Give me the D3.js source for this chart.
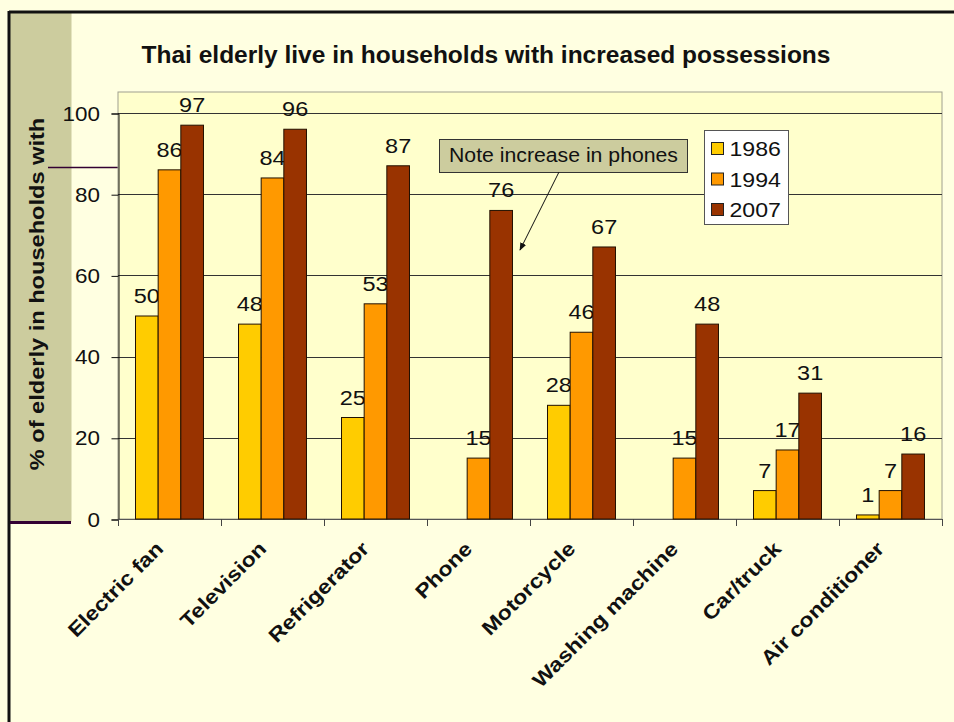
<!DOCTYPE html>
<html>
<head>
<meta charset="utf-8">
<script src="https://cdnjs.cloudflare.com/ajax/libs/d3/7.8.5/d3.min.js"></script>
<style>
  html, body { margin: 0; padding: 0; background: #ffffe1; }
  svg { display: block; font-family: Arial, "Liberation Sans", sans-serif; }
</style>
</head>
<body>
<svg id="chart" width="954" height="722"></svg>
<script>
// Household possessions of Thai elderly, by survey year
const categories = ["Electric fan", "Television", "Refrigerator", "Phone",
                    "Motorcycle", "Washing machine", "Car/truck", "Air conditioner"];
const years = ["1986", "1994", "2007"];
const values1986 = [50, 48, 25, null, 28, null, 7, 1];
const values1994 = [86, 84, 53, 15, 46, 15, 17, 7];
const values2007 = [97, 96, 87, 76, 67, 48, 31, 16];
const yTicks = [0, 20, 40, 60, 80, 100];
const colors = ["#ffcc00", "#ff9900", "#993300"];

const seriesValues = [values1986, values1994, values2007];

const svg = d3.select("#chart");
const W = 954, H = 722;
const plot = { left: 118, right: 942, top: 92, bottom: 519 };

// text drawn slightly wide, as the slide's renderer does
function wideText(parent, x, y, str, opts) {
  const o = Object.assign({ size: 20, sx: 1.12, rotate: 0, anchor: "start", weight: "normal" }, opts);
  return parent.append("text")
    .attr("transform", `translate(${x},${y}) rotate(${o.rotate}) scale(${o.sx},1)`)
    .attr("text-anchor", o.anchor)
    .attr("font-size", o.size)
    .attr("font-weight", o.weight)
    .attr("fill", "#111")
    .text(str);
}

// page background and frame
svg.append("rect").attr("x", 0).attr("y", 0).attr("width", W).attr("height", H).attr("fill", "#ffffe1");
svg.append("rect").attr("x", 9.5).attr("y", 12.5).attr("width", 72 - 10).attr("height", 522 - 13)
  .attr("fill", "#cccc9e");
svg.append("line").attr("x1", 9).attr("x2", 956).attr("y1", 12).attr("y2", 12)
  .attr("stroke", "#111").attr("stroke-width", 3);
svg.append("line").attr("x1", 9).attr("x2", 9).attr("y1", 11).attr("y2", 724)
  .attr("stroke", "#111").attr("stroke-width", 3);
svg.append("line").attr("x1", 10).attr("x2", 71).attr("y1", 522.5).attr("y2", 522.5)
  .attr("stroke", "#330033").attr("stroke-width", 3);
svg.append("line").attr("x1", 48).attr("x2", 118).attr("y1", 167.5).attr("y2", 167.5)
  .attr("stroke", "#330033").attr("stroke-width", 1.5);

// plot area
svg.append("rect").attr("x", plot.left).attr("y", plot.top)
  .attr("width", plot.right - plot.left).attr("height", plot.bottom - plot.top)
  .attr("fill", "#ffffcc").attr("stroke", "#a0a090").attr("stroke-width", 1);

const x0 = d3.scaleBand().domain(categories).range([plot.left, plot.right])
  .paddingInner(0.34).paddingOuter(0.17);
const x1 = d3.scaleBand().domain(years).range([0, x0.bandwidth()]);
const y = d3.scaleLinear().domain([0, 100]).range([plot.bottom, 113]);

// gridlines
svg.append("g").selectAll("line").data(yTicks.filter(t => t > 0)).join("line")
  .attr("x1", plot.left).attr("x2", plot.right)
  .attr("y1", d => Math.round(y(d)) + 0.5).attr("y2", d => Math.round(y(d)) + 0.5)
  .attr("stroke", "#333").attr("stroke-width", 1);

// y axis: line and ticks from d3, labels drawn wide
const yAxis = svg.append("g").attr("transform", `translate(${plot.left + 0.5},0.5)`)
  .call(d3.axisLeft(y).tickValues(yTicks).tickSize(7).tickFormat(""));
yAxis.select(".domain").attr("stroke", "#111");
yAxis.selectAll(".tick line").attr("stroke", "#111");
const yLabels = svg.append("g");
yTicks.forEach(t => wideText(yLabels, 100, y(t) + 7.5, String(t), { size: 21, sx: 1.07, anchor: "end" }));

// x axis with ticks between categories
const step = x0.step();
const boundaries = d3.range(categories.length + 1).map(i => plot.left + i * step);
svg.append("line").attr("x1", plot.left).attr("x2", plot.right)
  .attr("y1", plot.bottom + 0.5).attr("y2", plot.bottom + 0.5).attr("stroke", "#555");
svg.append("g").selectAll("line").data(boundaries).join("line")
  .attr("x1", d => Math.round(d) + 0.5).attr("x2", d => Math.round(d) + 0.5)
  .attr("y1", plot.bottom).attr("y2", plot.bottom + 7).attr("stroke", "#444");

// bars and value labels
const groups = svg.append("g").selectAll("g").data(categories).join("g")
  .attr("transform", d => `translate(${x0(d)},0)`);
groups.each(function(cat, ci) {
  const g = d3.select(this);
  years.forEach((yr, si) => {
    const v = seriesValues[si][ci];
    if (v == null) return;
    g.append("rect")
      .attr("x", x1(yr)).attr("y", y(v))
      .attr("width", x1.bandwidth()).attr("height", y(0) - y(v))
      .attr("fill", colors[si]).attr("stroke", "#221100").attr("stroke-width", 1);
    wideText(g, x1(yr) + x1.bandwidth() / 2, y(v) - 13, String(v),
      { size: 21, sx: 1.12, anchor: "middle" });
  });
});

// category labels
const catLabels = svg.append("g");
categories.forEach(c => wideText(catLabels, x0(c) + x0.bandwidth() / 2 - 5, plot.bottom + 31, c,
  { size: 20, sx: 1.16, rotate: -45, anchor: "end", weight: "bold" }));

// title
svg.append("text").attr("x", 486).attr("y", 63).attr("text-anchor", "middle")
  .attr("font-size", 24.5).attr("font-weight", "bold").attr("fill", "#111")
  .text("Thai elderly live in households with increased possessions");

// y axis title
wideText(svg, 44, 294, "% of elderly in households with",
  { size: 20, sx: 1.18, rotate: -90, anchor: "middle", weight: "bold" });

// legend
const legend = svg.append("g").attr("transform", "translate(704.5,130.5)");
legend.append("rect").attr("width", 84).attr("height", 94).attr("fill", "#ffffff").attr("stroke", "#555");
years.forEach((yr, i) => {
  const cy = 18 + i * 30.5;
  legend.append("rect").attr("x", 7).attr("y", cy - 6).attr("width", 12).attr("height", 12)
    .attr("fill", colors[i]).attr("stroke", "#222");
  wideText(legend, 25, cy + 7.5, yr, { size: 21, sx: 1.1 });
});

// annotation with arrow
const defs = svg.append("defs");
defs.append("marker").attr("id", "arrow").attr("viewBox", "0 0 10 10")
  .attr("refX", 9).attr("refY", 5).attr("markerWidth", 8).attr("markerHeight", 8)
  .attr("orient", "auto")
  .append("path").attr("d", "M0,1 L10,5 L0,9 z").attr("fill", "#111");
svg.append("rect").attr("x", 439.5).attr("y", 139.5).attr("width", 248).attr("height", 33)
  .attr("fill", "#cccc9e").attr("stroke", "#333");
wideText(svg, 563.5, 162, "Note increase in phones", { size: 19.5, sx: 1.09, anchor: "middle" });
svg.append("line").attr("x1", 559).attr("y1", 172).attr("x2", 520).attr("y2", 250)
  .attr("stroke", "#111").attr("stroke-width", 1).attr("marker-end", "url(#arrow)");
</script>
</body>
</html>
